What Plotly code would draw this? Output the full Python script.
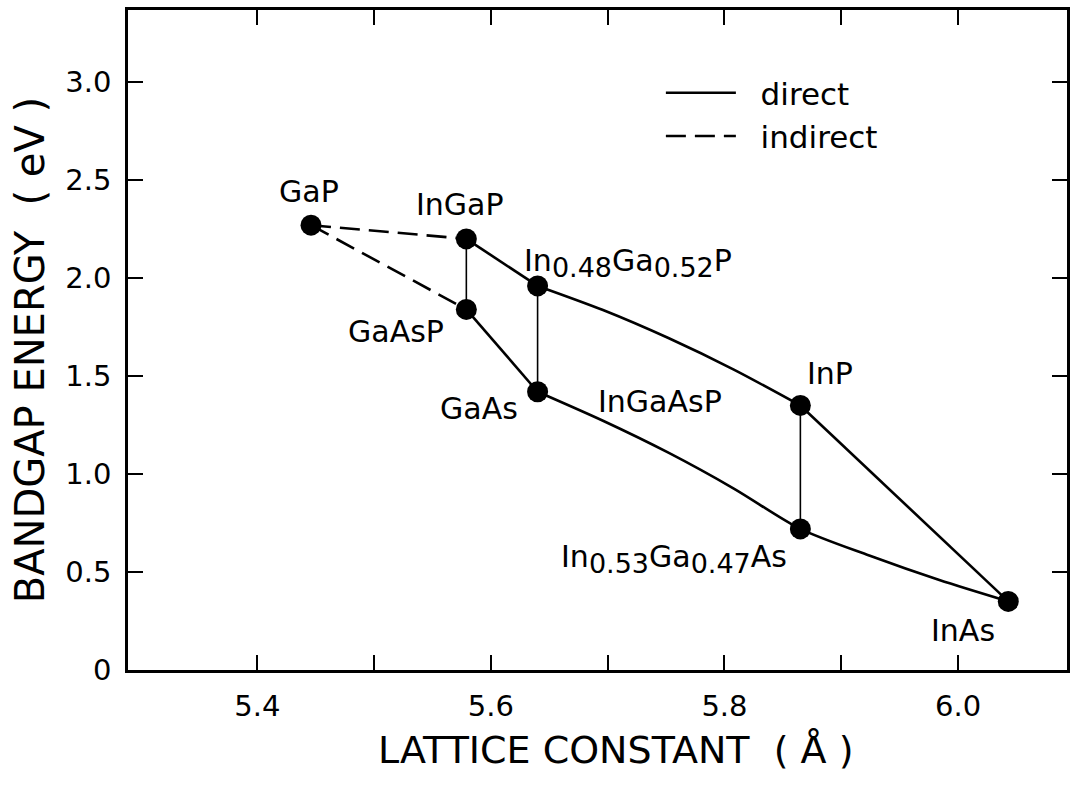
import plotly.graph_objects as go

# ---- data ----
compounds = ["GaP", "InGaP", "GaAsP", "In0.48Ga0.52P", "GaAs", "InP", "In0.53Ga0.47As", "InAs"]
lattice = [5.446, 5.579, 5.579, 5.640, 5.640, 5.865, 5.865, 6.043]
bandgap = [2.27, 2.20, 1.84, 1.96, 1.42, 1.35, 0.72, 0.35]

# direct-gap curves
top_curve_x = [5.640, 5.696, 5.752, 5.808, 5.865]
top_curve_y = [1.96, 1.837, 1.694, 1.533, 1.35]
bottom_curve_x = [5.640, 5.696, 5.752, 5.808, 5.865, 5.924, 5.984, 6.043]
bottom_curve_y = [1.42, 1.272, 1.109, 0.926, 0.72, 0.584, 0.459, 0.35]

# connections between compounds (index pairs)
direct_pairs = [(1, 3), (2, 4), (5, 7)]
tie_pairs = [(1, 2), (3, 4), (5, 6)]
indirect_pairs = [(0, 1), (0, 2)]

x_tickvals = [5.4, 5.6, 5.8, 6.0]
x_ticktext = ["5.4", "5.6", "5.8", "6.0"]
x_minor = [5.5, 5.7, 5.9]
y_tickvals = [0, 0.5, 1.0, 1.5, 2.0, 2.5, 3.0]
y_ticktext = ["0", "0.5", "1.0", "1.5", "2.0", "2.5", "3.0"]

FONT = "DejaVu Sans"
NB = "\u00a0"


def build(pairs, extra=None):
    xs, ys = [], []
    for i, j in pairs:
        xs += [lattice[i], lattice[j], None]
        ys += [bandgap[i], bandgap[j], None]
    for cx, cy in (extra or []):
        xs += list(cx) + [None]
        ys += list(cy) + [None]
    return xs, ys


fig = go.Figure()

dx, dy = build(direct_pairs, [(top_curve_x, top_curve_y), (bottom_curve_x, bottom_curve_y)])
fig.add_trace(go.Scatter(x=dx, y=dy, mode="lines", name=NB * 2 + "direct",
                         line=dict(color="black", width=2.6, shape="spline", smoothing=0.8),
                         showlegend=True))
ix, iy = build(indirect_pairs)
fig.add_trace(go.Scatter(x=ix, y=iy, mode="lines", name=NB * 2 + "indirect",
                         line=dict(color="black", width=2.6, dash="20px,9px"), showlegend=True))
tx, ty = build(tie_pairs)
fig.add_trace(go.Scatter(x=tx, y=ty, mode="lines", showlegend=False,
                         line=dict(color="black", width=1.6)))
fig.add_trace(go.Scatter(x=lattice, y=bandgap, mode="markers", showlegend=False,
                         marker=dict(color="black", size=21, line=dict(width=0))))


def sub(s):
    return "<sub><span style='font-size:27px'>" + s + "</span></sub>"


# ---- labels (offsets in pixels from each point) ----
lab = {
    "GaP": dict(text="GaP", xshift=-2, yshift=34, xanchor="center", yanchor="middle"),
    "InGaP": dict(text="InGaP", xshift=-6, yshift=34, xanchor="center", yanchor="middle"),
    "GaAsP": dict(text="GaAsP", xshift=-70, yshift=-22, xanchor="center", yanchor="middle"),
    "In0.48Ga0.52P": dict(text="In" + sub("0.48") + "Ga" + sub("0.52") + "P", xshift=-16, yshift=1,
                          xanchor="left", yanchor="bottom"),
    "GaAs": dict(text="GaAs", xshift=-59, yshift=-17, xanchor="center", yanchor="middle"),
    "InP": dict(text="InP", xshift=30, yshift=32, xanchor="center", yanchor="middle"),
    "In0.53Ga0.47As": dict(text="In" + sub("0.53") + "Ga" + sub("0.47") + "As", xshift=-11, yshift=-8,
                           xanchor="right", yanchor="top"),
    "InAs": dict(text="InAs", xshift=-45, yshift=-29, xanchor="center", yanchor="middle"),
}
annotations = []
for name, xv, yv in zip(compounds, lattice, bandgap):
    d = lab[name]
    annotations.append(dict(x=xv, y=yv, xref="x", yref="y", showarrow=False,
                            font=dict(family=FONT, size=30, color="black"), **d))

# region label
annotations.append(dict(x=5.745, y=1.369, xref="x", yref="y", text="InGaAsP", showarrow=False,
                        font=dict(family=FONT, size=30, color="black")))

# axis titles
annotations.append(dict(x=0.52, y=-0.121, xref="paper", yref="paper",
                        text="LATTICE CONSTANT  ( Å )", showarrow=False,
                        xanchor="center", yanchor="middle",
                        font=dict(family=FONT, size=38, color="black")))
annotations.append(dict(x=-0.105, y=0.485, xref="paper", yref="paper",
                        text="BANDGAP ENERGY  ( eV )", showarrow=False, textangle=-90,
                        xanchor="center", yanchor="middle",
                        font=dict(family=FONT, size=40, color="black")))

axis_common = dict(ticks="inside", ticklen=15, tickwidth=2, tickcolor="black",
                   showline=True, linewidth=2.5, linecolor="black", mirror="allticks",
                   showgrid=False, zeroline=False,
                   tickfont=dict(family=FONT, size=29, color="black"))

fig.update_layout(
    width=1070, height=792,
    margin=dict(l=128, r=0, t=10, b=122),
    paper_bgcolor="white", plot_bgcolor="white",
    font=dict(family=FONT, color="black"),
    xaxis=dict(range=[5.2893, 6.0933], tickvals=x_tickvals, ticktext=x_ticktext,
               ticklabelstandoff=8,
               minor=dict(tickvals=x_minor, ticks="inside", ticklen=15, tickwidth=2,
                          tickcolor="black", showgrid=False),
               **axis_common),
    yaxis=dict(range=[0, 3.368], tickvals=y_tickvals, ticktext=y_ticktext,
               ticklabelstandoff=8, **axis_common),
    legend=dict(x=0.5675, y=0.915, xanchor="left", yanchor="top",
                bgcolor="rgba(0,0,0,0)", borderwidth=0,
                font=dict(family=FONT, size=31, color="black"), itemwidth=70),
    annotations=annotations,
    showlegend=True,
)

fig.write_html("out.html")
